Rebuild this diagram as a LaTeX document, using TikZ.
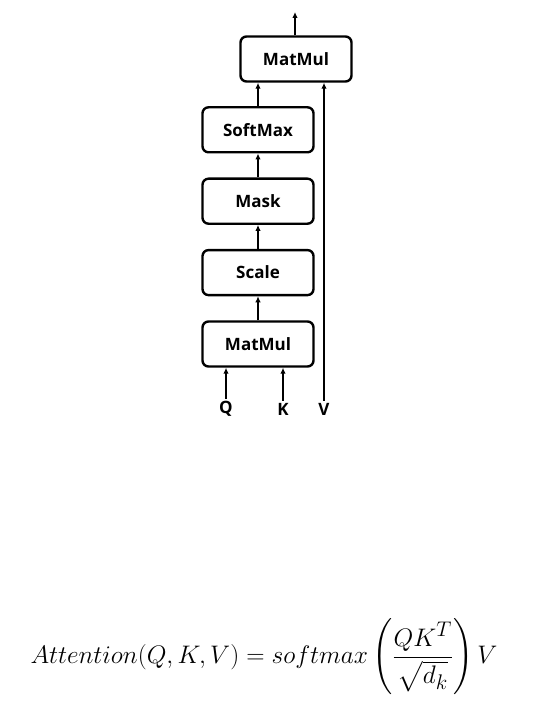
\documentclass[tikz,border=0pt]{standalone}
\usepackage{amsmath}
\usepackage{fontspec}
\usepackage{tikz}
\usetikzlibrary{positioning, calc, arrows.meta}
\newfontfamily\blockfont{Open Sans}

\begin{document}
\begin{tikzpicture}[x=1pt, y=1pt,
		>={Latex[length=6pt, width=5.5pt]},
		BlockNode/.style={rectangle, rounded corners=6pt, draw=black, line width=2.4pt, minimum width=111pt, minimum height=45pt, font=\blockfont\bfseries\fontsize{17}{20}\selectfont},
		InputNode/.style={font=\blockfont\bfseries\fontsize{17}{20}\selectfont, inner sep=2pt}]

	\useasboundingbox (0,0) rectangle (547,-722);

	% Nodes
	\node[BlockNode] (MatMulA) at (258,-344) {MatMul};
	\node[BlockNode] (Scale) [above=24pt of MatMulA] {Scale};
	\node[BlockNode] (Mask) [above=24pt of Scale] {Mask};
	\node[BlockNode] (SoftMax) [above=24pt of Mask] {SoftMax};
	\node[BlockNode] (MatMulB) at (296,-59) {MatMul};

	\node[InputNode] (Q) at (226,-409) {Q};
	\node[InputNode] (K) at (283,-409) {K};
	\node[InputNode] (V) at (324,-409) {V};

	\coordinate (Out) at (295,-12);

	% Lines
	\draw[line width=1.6pt, ->] (Q) to (Q |- MatMulA.south);
	\draw[line width=1.6pt, ->] (K) to (K |- MatMulA.south);
	\draw[line width=1.6pt, ->] (V) to (V |- MatMulB.south);
	\draw[line width=1.6pt, ->] (MatMulA) to (Scale);
	\draw[line width=1.6pt, ->] (Scale) to (Mask);
	\draw[line width=1.6pt, ->] (Mask) to (SoftMax);
	\draw[line width=1.6pt, ->] (SoftMax.north) to (SoftMax.north |- MatMulB.south);
	\draw[line width=1.6pt, ->] (Out |- MatMulB.north) to (Out);

	% Formula
	\node[scale=1.02, transform shape] (Formula) at (264,-657) {\fontsize{24.88}{29}\selectfont $Attention(Q,K,V) = softmax\left(\dfrac{QK^T}{\sqrt{d_k}}\right)V$};
\end{tikzpicture}
\end{document}
